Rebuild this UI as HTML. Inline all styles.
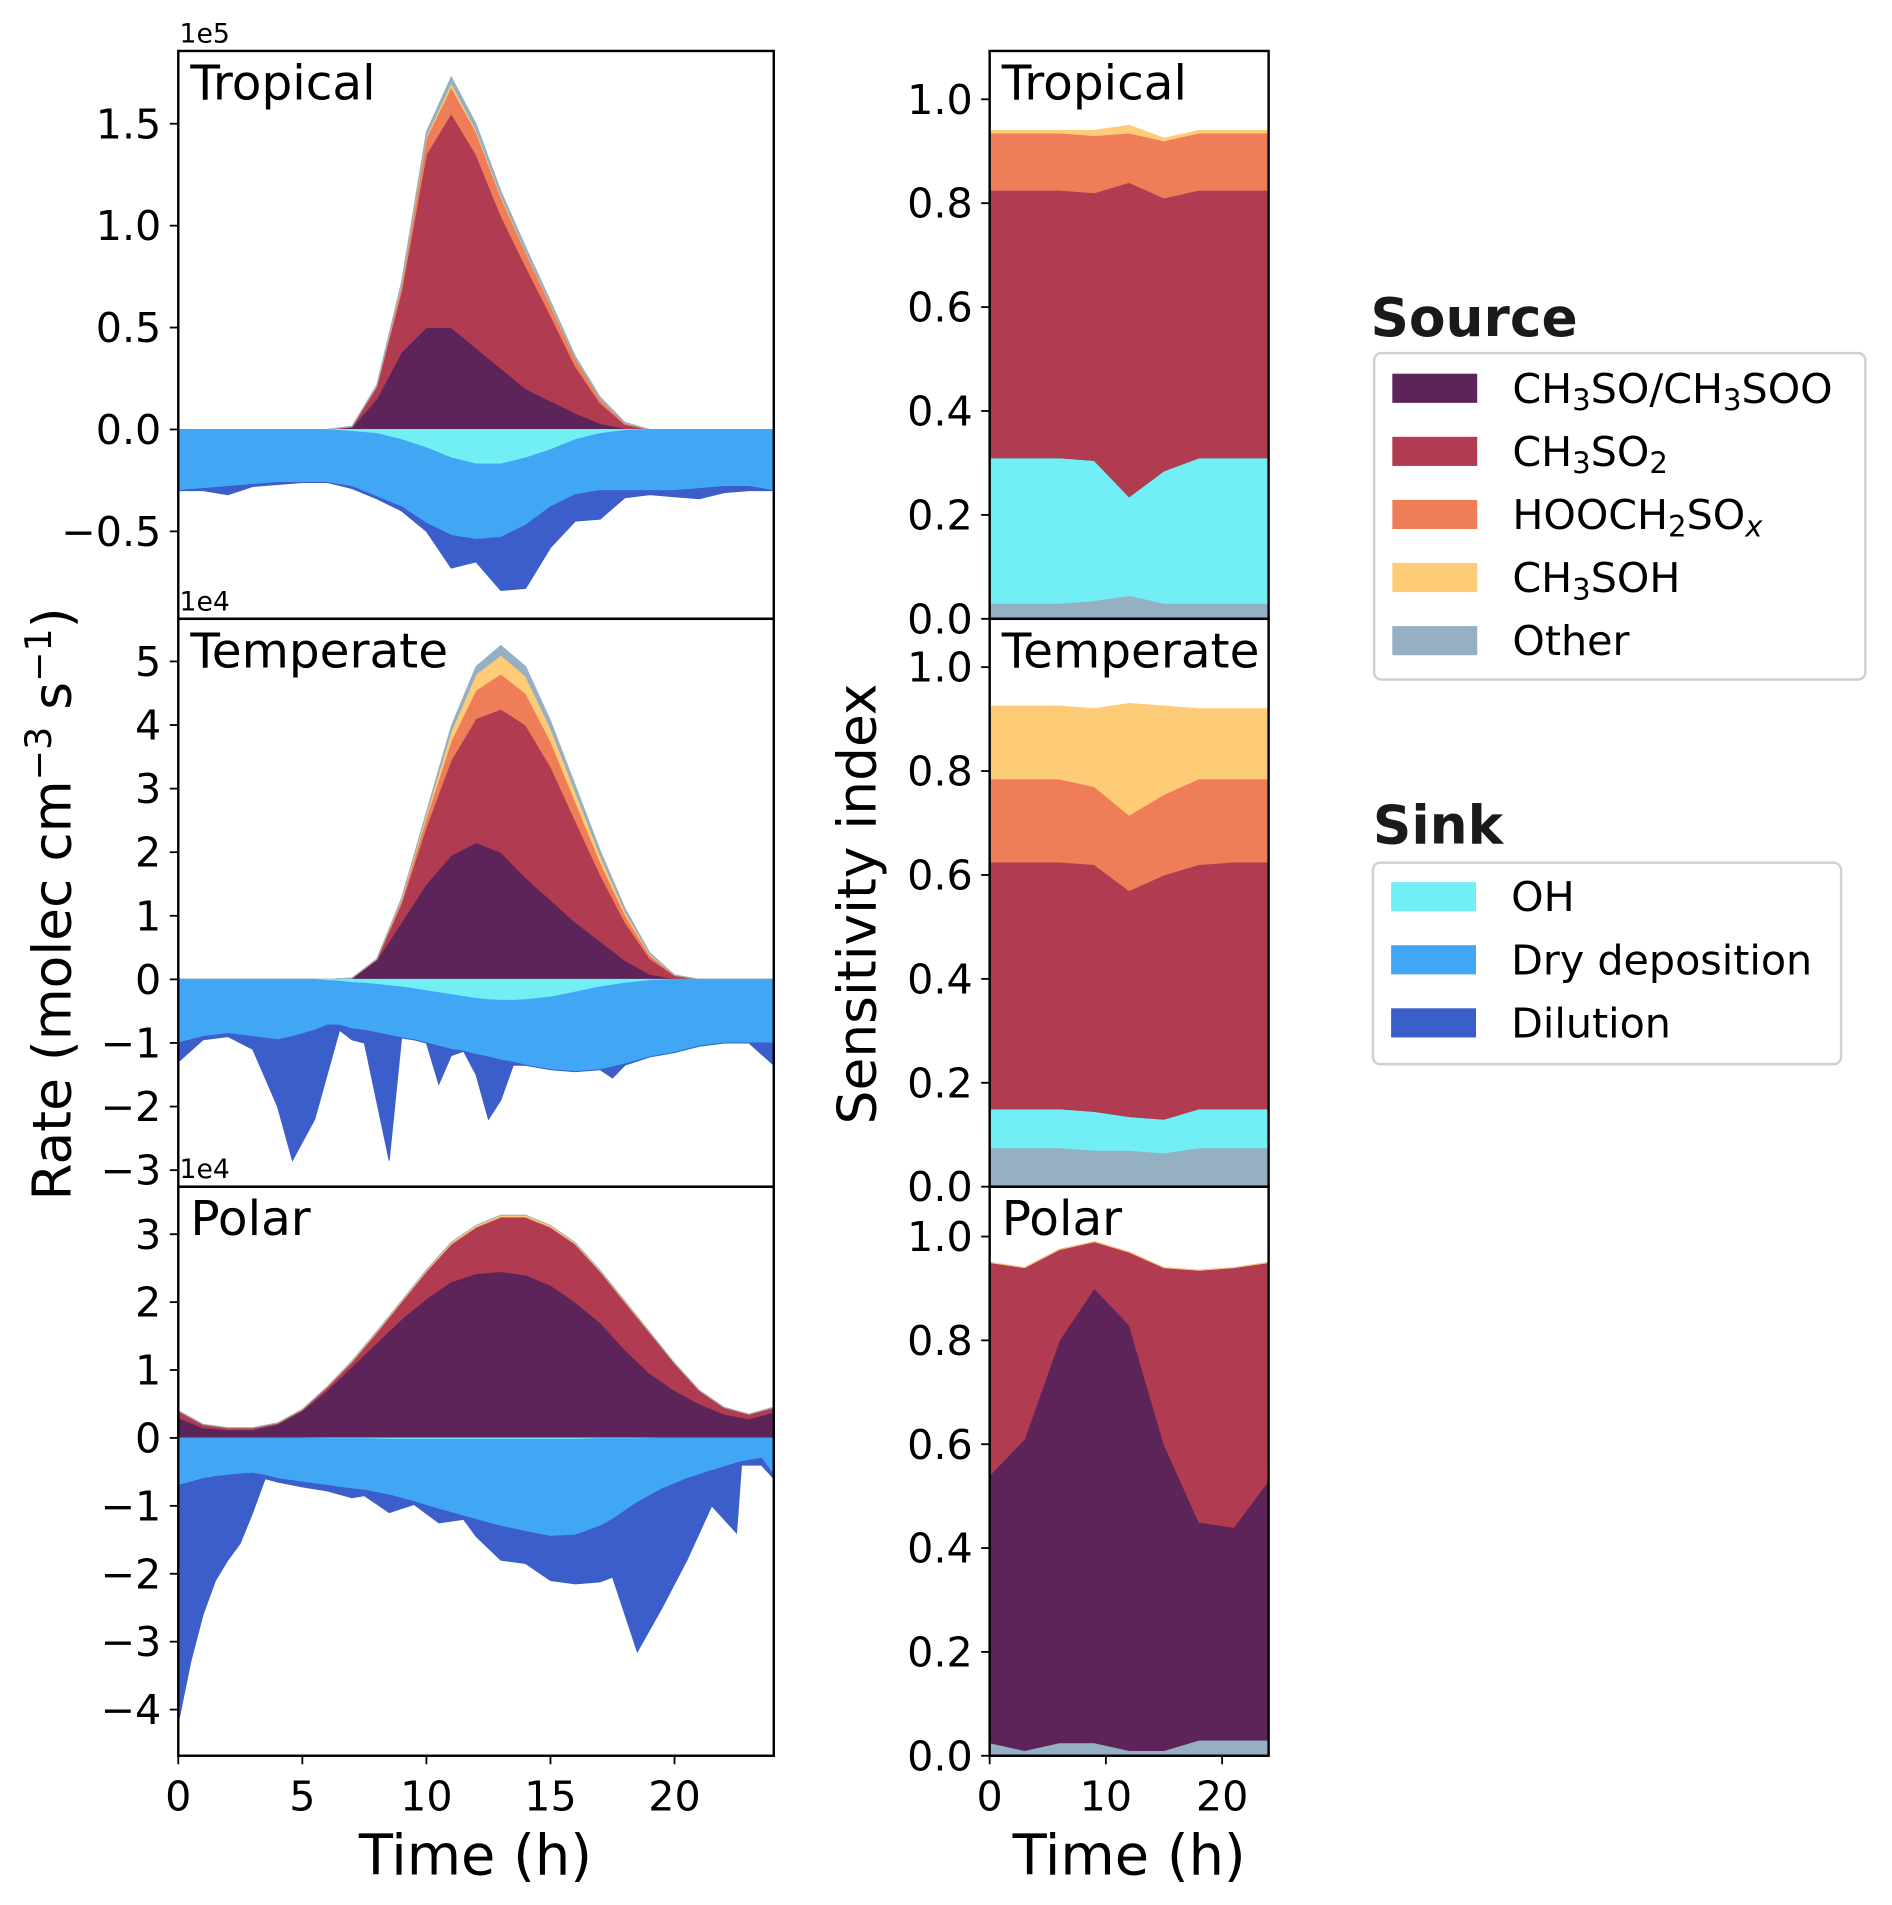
<!DOCTYPE html>
<html><head><meta charset="utf-8"><style>
html,body{margin:0;padding:0;background:#fff;}
svg{display:block;font-family:"DejaVu Sans","Liberation Sans",sans-serif;}
</style></head><body>
<svg id="fig" width="1892" height="1905" viewBox="0 0 1560 1570" preserveAspectRatio="none" xmlns="http://www.w3.org/2000/svg">
<g id="plots"></g>
<g>
 <text x="1130" y="277" font-size="44" font-weight="bold" fill="#1a1a1a">Source</text>
 <rect x="1133" y="291" width="405" height="269" rx="6" fill="#fff" stroke="#d0d0d0" stroke-width="2"/>
 <g><rect x="1148" y="308" width="70" height="24" fill="#5c2458"/><text x="1247" y="332" font-size="34">CH<tspan font-size="24" dy="6">3</tspan><tspan dy="-6">SO/CH</tspan><tspan font-size="24" dy="6">3</tspan><tspan dy="-6">SOO</tspan></text></g>
 <g><rect x="1148" y="360" width="70" height="24" fill="#b13c51"/><text x="1247" y="384" font-size="34">CH<tspan font-size="24" dy="6">3</tspan><tspan dy="-6">SO</tspan><tspan font-size="24" dy="6">2</tspan></text></g>
 <g><rect x="1148" y="412" width="70" height="24" fill="#ee7d58"/><text x="1247" y="436" font-size="34">HOOCH<tspan font-size="24" dy="6">2</tspan><tspan dy="-6">SO</tspan><tspan font-size="24" dy="6" font-style="italic">x</tspan></text></g>
 <g><rect x="1148" y="464" width="70" height="24" fill="#fecb77"/><text x="1247" y="488" font-size="34">CH<tspan font-size="24" dy="6">3</tspan><tspan dy="-6">SOH</tspan></text></g>
 <g><rect x="1148" y="516" width="70" height="24" fill="#96b0c3"/><text x="1247" y="540" font-size="34">Other</text></g>
</g>
<g>
 <text x="1132" y="695" font-size="44" font-weight="bold" fill="#1a1a1a">Sink</text>
 <rect x="1132" y="711" width="386" height="166" rx="6" fill="#fff" stroke="#d0d0d0" stroke-width="2"/>
 <g><rect x="1147" y="727" width="70" height="24" fill="#72eef5"/><text x="1246" y="751" font-size="34">OH</text></g>
 <g><rect x="1147" y="779" width="70" height="24" fill="#41a6f4"/><text x="1246" y="803" font-size="34">Dry deposition</text></g>
 <g><rect x="1147" y="831" width="70" height="24" fill="#3b5ecb"/><text x="1246" y="855" font-size="34">Dilution</text></g>
</g>
<text transform="translate(58,745) rotate(-90)" text-anchor="middle" font-size="44">Rate (molec cm<tspan font-size="30" dy="-16">−3</tspan><tspan dy="16"> s</tspan><tspan font-size="30" dy="-16">−1</tspan><tspan dy="16">)</tspan></text>
<text transform="translate(722,745) rotate(-90)" text-anchor="middle" font-size="44">Sensitivity index</text>
<text x="392" y="1545" text-anchor="middle" font-size="46">Time (h)</text>
<text x="931" y="1545" text-anchor="middle" font-size="46">Time (h)</text>
</svg>
<script>
// ---- Left panels: sources (hourly) ----
const hours = [0,1,2,3,4,5,6,7,8,9,10,11,12,13,14,15,16,17,18,19,20,21,22,23,24];
// Tropical (x1e5)
const tropCH3SO   = [0,0,0,0,0,0,0,0.01,0.15,0.38,0.5,0.5,0.4,0.3,0.2,0.14,0.08,0.03,0.005,0,0,0,0,0,0];
const tropCH3SO2  = [0,0,0,0,0,0,0,0.005,0.06,0.3,0.85,1.05,0.95,0.75,0.6,0.42,0.23,0.1,0.02,0,0,0,0,0,0];
const tropHOOCH   = [0,0,0,0,0,0,0,0,0.005,0.03,0.08,0.13,0.11,0.09,0.07,0.05,0.04,0.02,0.005,0,0,0,0,0,0];
const tropCH3SOH  = [0,0,0,0,0,0,0,0,0,0.005,0.01,0.02,0.01,0.01,0.005,0.005,0,0,0,0,0,0,0,0,0];
const tropOther   = [0,0,0,0,0,0,0,0,0.003,0.01,0.02,0.03,0.03,0.02,0.02,0.015,0.01,0.01,0.005,0,0,0,0,0,0];
const tropOH      = [0,0,0,0,0,0,0,0.01,0.02,0.05,0.09,0.14,0.17,0.17,0.14,0.1,0.05,0.02,0.005,0,0,0,0,0,0];
const tropDry     = [0.3,0.29,0.28,0.27,0.26,0.26,0.26,0.27,0.31,0.33,0.37,0.38,0.37,0.36,0.33,0.28,0.27,0.28,0.295,0.3,0.3,0.29,0.28,0.28,0.3];
const tropDil     = [0,0.01,0.04,0.01,0.01,0,0,0.01,0.01,0.02,0.04,0.16,0.11,0.26,0.31,0.2,0.13,0.14,0.035,0.02,0.03,0.05,0.03,0.02,0];
// Temperate (x1e4)
const tempCH3SO   = [0,0,0,0,0,0,0,0.02,0.3,0.9,1.5,1.95,2.15,2.0,1.6,1.25,0.9,0.6,0.3,0.08,0.01,0,0,0,0];
const tempCH3SO2  = [0,0,0,0,0,0,0,0,0.02,0.3,0.9,1.5,1.95,2.25,2.4,2.1,1.6,1.05,0.6,0.25,0.05,0,0,0,0];
const tempHOOCH   = [0,0,0,0,0,0,0,0,0,0.05,0.15,0.3,0.45,0.55,0.5,0.4,0.3,0.2,0.12,0.05,0.01,0,0,0,0];
const tempCH3SOH  = [0,0,0,0,0,0,0,0,0,0.02,0.05,0.15,0.25,0.3,0.27,0.2,0.15,0.1,0.05,0.02,0,0,0,0,0];
const tempOther   = [0,0,0,0,0,0,0,0,0,0.01,0.03,0.08,0.12,0.15,0.15,0.12,0.1,0.08,0.05,0.02,0,0,0,0,0];
const tempSinkT   = [0,1,2,3,4,4.6,5.5,6,6.5,7,7.5,8.5,9,9.5,10,10.5,11,11.5,12,12.5,13,13.5,14,15,16,17,17.5,18,19,20,21,22,23,24];
const tempOH      = [0,0,0,0,0,0,0,0.02,0.03,0.05,0.06,0.1,0.12,0.15,0.18,0.21,0.24,0.27,0.3,0.32,0.33,0.33,0.32,0.28,0.2,0.12,0.09,0.06,0.02,0,0,0,0,0];
const tempDry     = [1.0,0.9,0.85,0.9,0.95,0.9,0.8,0.7,0.69,0.73,0.74,0.78,0.8,0.8,0.82,0.84,0.86,0.86,0.88,0.9,0.94,0.97,1.03,1.14,1.25,1.3,1.29,1.27,1.2,1.15,1.05,1.0,1.0,1.0];
const tempDil     = [0.3,0.05,0.05,0.2,1.05,1.95,1.4,0.78,0.08,0.17,0.2,1.97,0,0,0,0.6,0.1,0,0.32,0.98,0.63,0.05,0,0,0,0,0.17,0.02,0,0,0,0,0,0.35];
// Polar (x1e4)
const polCH3SO    = [0.3,0.15,0.12,0.12,0.2,0.4,0.7,1.05,1.4,1.75,2.05,2.3,2.42,2.45,2.4,2.25,2.0,1.7,1.3,0.95,0.7,0.5,0.35,0.28,0.38];
const polCH3SO2   = [0.1,0.05,0.03,0.03,0.02,0.02,0.05,0.07,0.15,0.25,0.4,0.55,0.68,0.8,0.85,0.85,0.85,0.75,0.7,0.6,0.4,0.2,0.1,0.07,0.07];
const polHOOCH    = [0,0,0,0,0,0,0,0.005,0.01,0.01,0.01,0.01,0.01,0.01,0.01,0.01,0.01,0.01,0.005,0.005,0,0,0,0,0];
const polCH3SOH   = [0,0,0,0,0,0,0.005,0.01,0.01,0.01,0.015,0.02,0.02,0.02,0.02,0.02,0.015,0.01,0.01,0.005,0.005,0,0,0,0];
const polOther    = [0.005,0,0,0,0,0,0,0,0,0,0,0,0,0,0,0,0,0,0,0,0,0,0,0,0.005];
const polSinkT    = [0,0.5,1,1.5,2,2.5,3,3.5,4,5,6,7,7.5,8.5,9.5,10.5,11.5,12,13,14,15,16,17,17.5,18.5,19.5,20.5,21.5,22.5,22.7,23.5,24];
const polOH       = [0,0,0,0,0,0,0,0,0,0,0.01,0.01,0.01,0.02,0.02,0.02,0.02,0.02,0.02,0.02,0.02,0.02,0.01,0.01,0.01,0,0,0,0,0,0,0];
const polDry      = [0.7,0.65,0.6,0.57,0.55,0.53,0.52,0.55,0.6,0.65,0.69,0.74,0.76,0.82,0.92,1.03,1.13,1.18,1.28,1.36,1.43,1.41,1.29,1.19,0.94,0.75,0.6,0.48,0.37,0.35,0.3,0.55];
const polDil      = [3.5,2.65,2.0,1.53,1.25,1.02,0.58,0.05,0.05,0.07,0.08,0.13,0.08,0.26,0.04,0.2,0.05,0.25,0.5,0.47,0.65,0.72,0.82,0.85,2.2,1.75,1.2,0.52,1.03,0.05,0.1,0.05];
// ---- Right panels: sensitivity index ----
const sensT        = [0,3,6,9,12,15,18,21,24];
const sTropOther   = [0.03,0.03,0.03,0.035,0.045,0.03,0.03,0.03,0.03];
const sTropOH      = [0.28,0.28,0.28,0.27,0.19,0.255,0.28,0.28,0.28];
const sTropCH3SO   = [0,0,0,0,0,0,0,0,0];
const sTropCH3SO2  = [0.515,0.515,0.515,0.515,0.605,0.525,0.515,0.515,0.515];
const sTropHOOCH   = [0.11,0.11,0.11,0.11,0.095,0.11,0.11,0.11,0.11];
const sTropCH3SOH  = [0.005,0.005,0.005,0.01,0.015,0.005,0.005,0.005,0.005];
const sTempOther   = [0.075,0.075,0.075,0.07,0.07,0.065,0.075,0.075,0.075];
const sTempOH      = [0.075,0.075,0.075,0.075,0.065,0.065,0.075,0.075,0.075];
const sTempCH3SO   = [0,0,0,0,0,0,0,0,0];
const sTempCH3SO2  = [0.475,0.475,0.475,0.475,0.435,0.47,0.47,0.475,0.475];
const sTempHOOCH   = [0.16,0.16,0.16,0.15,0.145,0.155,0.165,0.16,0.16];
const sTempCH3SOH  = [0.14,0.14,0.14,0.15,0.215,0.17,0.135,0.135,0.135];
const sPolOther    = [0.025,0.01,0.025,0.025,0.01,0.01,0.03,0.03,0.03];
const sPolOH       = [0,0,0,0,0,0,0,0,0];
const sPolCH3SO    = [0.515,0.6,0.775,0.875,0.82,0.59,0.42,0.41,0.5];
const sPolCH3SO2   = [0.41,0.33,0.175,0.09,0.14,0.34,0.485,0.5,0.42];
const sPolHOOCH    = [0,0,0,0,0,0,0,0,0];
const sPolCH3SOH   = [0,0,0,0,0,0,0,0,0];
const leftTicksTrop = [-0.5,0,0.5,1.0,1.5];
const leftTicksTemp = [-3,-2,-1,0,1,2,3,4,5];
const leftTicksPol  = [-4,-3,-2,-1,0,1,2,3];
const leftXTicks  = [0,5,10,15,20];
const rightXTicks = [0,10,20];
const sensTicks   = [0,0.2,0.4,0.6,0.8,1.0];

const C = {ch3so:'#5c2458',ch3so2:'#b13c51',hooch:'#ee7d58',ch3soh:'#fecb77',other:'#96b0c3',oh:'#72eef5',dry:'#41a6f4',dil:'#3b5ecb'};
const NS='http://www.w3.org/2000/svg';
const root=document.getElementById('plots');
let clipId=0;
function mk(tag,attrs,parent){const e=document.createElementNS(NS,tag);for(const k in attrs)e.setAttribute(k,attrs[k]);parent.appendChild(e);return e;}
function lin(d0,d1,r0,r1){return v=>r0+(v-d0)/(d1-d0)*(r1-r0);}
function fmt(v,dec){const s=dec?v.toFixed(1):String(v);return s.replace('-','\u2212');}

function panel(name,box,ylim,xlim,yticks,dec,xticks,showX,title,mult){
  const g=mk('g',{},root);
  
  
  const xs=lin(xlim[0],xlim[1],box.x0,box.x1), ys=lin(ylim[0],ylim[1],box.y1,box.y0);
  const cid='c'+(clipId++);
  const cp=mk('clipPath',{id:cid},g);mk('rect',{x:box.x0,y:box.y0,width:box.x1-box.x0,height:box.y1-box.y0},cp);
  const plot=mk('g',{'clip-path':'url(#'+cid+')'},g);
  return {g,plot,xs,ys,box,finish(){
    const ax=mk('g',{},g);
    
    
    mk('rect',{x:box.x0,y:box.y0,width:box.x1-box.x0,height:box.y1-box.y0,fill:'none',stroke:'#000','stroke-width':2},ax);
    yticks.forEach(v=>{const y=ys(v);
      mk('line',{x1:box.x0-7,x2:box.x0,y1:y,y2:y,stroke:'#000','stroke-width':1.5},ax);
      const t=mk('text',{x:box.x0-14,y:y+12,'text-anchor':'end','font-size':34},ax);t.textContent=fmt(v,dec);
      
      });
    if(showX) xticks.forEach(v=>{const x=xs(v);
      mk('line',{x1:x,x2:x,y1:box.y1,y2:box.y1+7,stroke:'#000','stroke-width':1.5},ax);
      const t=mk('text',{x:x,y:box.y1+45,'text-anchor':'middle','font-size':34},ax);t.textContent=String(v);
      
      });
    const tt=mk('text',{x:box.x0+10,y:box.y0+40,'font-size':40},ax);tt.textContent=title;
    
    
    if(mult){const m=mk('text',{x:box.x0+1,y:box.y0-7,'font-size':22},ax);m.textContent=mult;
      
      }
  }};
}
function stack(p,times,layers,colors,names,sign){
  const base=times.map(()=>0);
  layers.forEach((arr,i)=>{
    const top=base.map((b,j)=>b+sign*arr[j]);
    let d='M'+times.map((t,j)=>p.xs(t)+','+p.ys(top[j])).join('L');
    for(let j=times.length-1;j>=0;j--) d+='L'+p.xs(times[j])+','+p.ys(base[j]);
    const path=mk('path',{d:d+'Z',fill:colors[i],stroke:colors[i],'stroke-width':0.8},p.plot);
    
    
    for(let j=0;j<base.length;j++) base[j]=top[j];
  });
}
const srcC=[C.ch3so,C.ch3so2,C.hooch,C.ch3soh,C.other], srcN=['ch3so','ch3so2','hooch2sox','ch3soh','other'];
const sinkC=[C.oh,C.dry,C.dil], sinkN=['oh','dry-deposition','dilution'];
const L={x0:147,x1:638}, R={x0:816,x1:1046};
// Left
let p=panel('tropical-rate-panel',{x0:L.x0,x1:L.x1,y0:42,y1:510},[-0.929,1.857],[0,24],leftTicksTrop,true,leftXTicks,false,'Tropical','1e5');
stack(p,hours,[tropCH3SO,tropCH3SO2,tropHOOCH,tropCH3SOH,tropOther],srcC,srcN,1);
stack(p,hours,[tropOH,tropDry,tropDil],sinkC,sinkN,-1);p.finish();
p=panel('temperate-rate-panel',{x0:L.x0,x1:L.x1,y0:510,y1:978},[-3.26,5.67],[0,24],leftTicksTemp,false,leftXTicks,false,'Temperate','1e4');
stack(p,hours,[tempCH3SO,tempCH3SO2,tempHOOCH,tempCH3SOH,tempOther],srcC,srcN,1);
stack(p,tempSinkT,[tempOH,tempDry,tempDil],sinkC,sinkN,-1);p.finish();
p=panel('polar-rate-panel',{x0:L.x0,x1:L.x1,y0:978,y1:1447},[-4.68,3.70],[0,24],leftTicksPol,false,leftXTicks,true,'Polar','1e4');
stack(p,hours,[polCH3SO,polCH3SO2,polHOOCH,polCH3SOH,polOther],srcC,srcN,1);
stack(p,polSinkT,[polOH,polDry,polDil],sinkC,sinkN,-1);p.finish();
// Right
const sC=[C.other,C.oh,C.ch3so,C.ch3so2,C.hooch,C.ch3soh], sN=['other','oh','ch3so','ch3so2','hooch2sox','ch3soh'];
p=panel('tropical-sensitivity-panel',{x0:R.x0,x1:R.x1,y0:42,y1:510},[0,1.093],[0,24],sensTicks,true,rightXTicks,false,'Tropical','');
stack(p,sensT,[sTropOther,sTropOH,sTropCH3SO,sTropCH3SO2,sTropHOOCH,sTropCH3SOH],sC,sN,1);p.finish();
p=panel('temperate-sensitivity-panel',{x0:R.x0,x1:R.x1,y0:510,y1:978},[0,1.093],[0,24],sensTicks,true,rightXTicks,false,'Temperate','');
stack(p,sensT,[sTempOther,sTempOH,sTempCH3SO,sTempCH3SO2,sTempHOOCH,sTempCH3SOH],sC,sN,1);p.finish();
p=panel('polar-sensitivity-panel',{x0:R.x0,x1:R.x1,y0:978,y1:1447},[0,1.096],[0,24],sensTicks,true,rightXTicks,true,'Polar','');
stack(p,sensT,[sPolOther,sPolOH,sPolCH3SO,sPolCH3SO2,sPolHOOCH,sPolCH3SOH],sC,sN,1);p.finish();
</script>
</body></html>
